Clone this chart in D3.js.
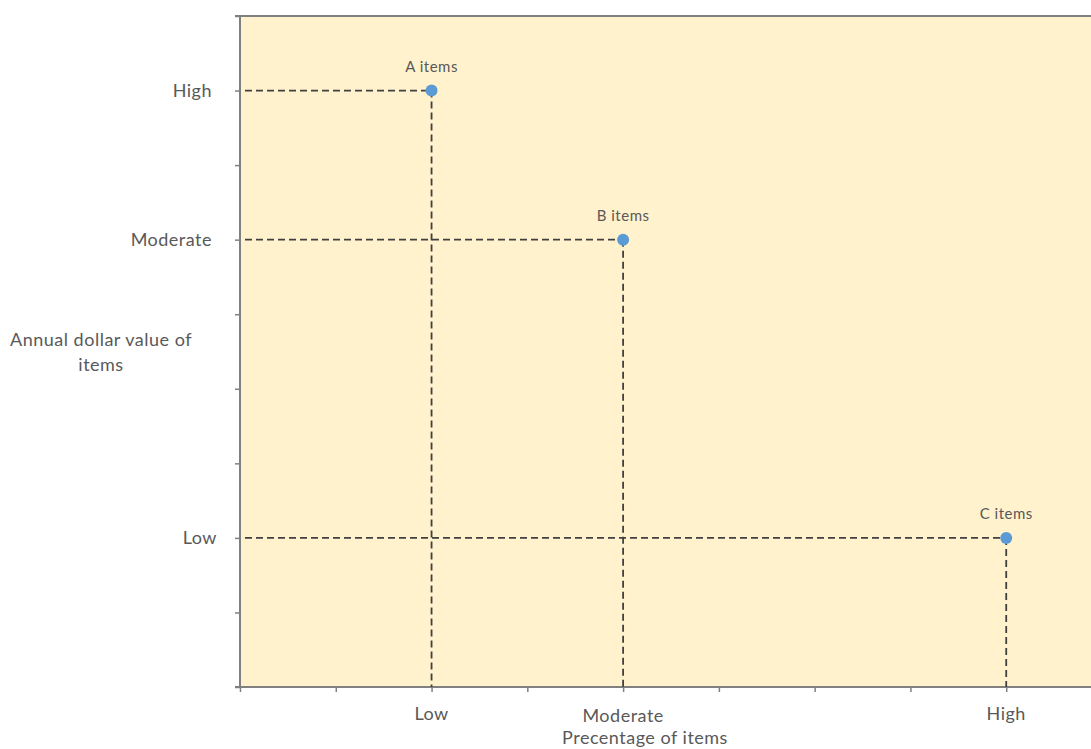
<!DOCTYPE html>
<html>
<head>
<meta charset="utf-8">
<script src="https://cdn.jsdelivr.net/npm/d3@7/dist/d3.min.js"></script>
<style>
  html, body { margin: 0; padding: 0; background: #ffffff; }
  svg { display: block; }
  text { font-family: Lato, "Open Sans", sans-serif; fill: #595959; letter-spacing: 0.5px; }
</style>
</head>
<body>
<svg id="chart" width="1091" height="749"></svg>
<script>
// ABC classification: item groups plotted by share of items vs annual dollar value
const groups = ["A items", "B items", "C items"];
const pctItems = [2, 4, 8];        // position on the "Precentage of items" scale
const dollarValue = [8, 6, 2];     // position on the "Annual dollar value" scale

const xTickValues = [0, 1, 2, 3, 4, 5, 6, 7, 8, 9];
const xTickLabels = { 2: "Low", 4: "Moderate", 8: "High" };
const yTickValues = [0, 1, 2, 3, 4, 5, 6, 7, 8, 9];
const yTickLabels = { 2: "Low", 6: "Moderate", 8: "High" };

const svg = d3.select("#chart");
const plotLeft = 240, plotRight = 1102, plotTop = 16, plotBottom = 687;

const x = d3.scaleLinear().domain([0, 9]).range([plotLeft, plotRight]);
const y = d3.scaleLinear().domain([0, 9]).range([plotBottom, plotTop]);

// plot background
svg.append("rect")
  .attr("x", plotLeft).attr("y", plotTop)
  .attr("width", plotRight - plotLeft).attr("height", plotBottom - plotTop)
  .attr("fill", "#FFF2CC");

// top border
svg.append("line")
  .attr("x1", plotLeft - 5).attr("x2", plotRight)
  .attr("y1", plotTop).attr("y2", plotTop)
  .attr("stroke", "#808080").attr("stroke-width", 2);

// axes
const xAxis = svg.append("g")
  .attr("transform", `translate(0,${plotBottom})`)
  .call(d3.axisBottom(x).tickValues(xTickValues).tickSize(5).tickFormat(""));
const yAxis = svg.append("g")
  .attr("transform", `translate(${plotLeft},0)`)
  .call(d3.axisLeft(y).tickValues(yTickValues).tickSize(5).tickFormat(""));
[xAxis, yAxis].forEach(g => {
  g.select(".domain").attr("stroke", "#808080").attr("stroke-width", 2);
  g.selectAll(".tick line").attr("stroke", "#808080").attr("stroke-width", 1.5);
});
// extend the baseline slightly past the origin
xAxis.select(".domain").attr("d", `M${plotLeft - 5},0H${plotRight}`);
yAxis.select(".domain").attr("d", `M0,${plotTop}V${plotBottom}`);

// x tick labels
const xLabelDy = { 2: 0, 4: 2, 8: 0 };
Object.entries(xTickLabels).forEach(([v, t]) => {
  svg.append("text")
    .attr("x", x(+v)).attr("y", 720 + xLabelDy[v])
    .attr("text-anchor", "middle")
    .attr("font-size", 18)
    .text(t);
});

// y tick labels
const yLabelDx = { 2: 5, 6: 0, 8: 0 };
Object.entries(yTickLabels).forEach(([v, t]) => {
  svg.append("text")
    .attr("x", 212 + yLabelDx[v]).attr("y", y(+v) + 6)
    .attr("text-anchor", "end")
    .attr("font-size", 18)
    .text(t);
});

// axis titles
svg.append("text")
  .attr("x", 645).attr("y", 744)
  .attr("text-anchor", "middle").attr("font-size", 18)
  .text("Precentage of items");
const yTitle = svg.append("text")
  .attr("x", 101).attr("text-anchor", "middle").attr("font-size", 18);
yTitle.append("tspan").attr("x", 101).attr("y", 346).text("Annual dollar value of");
yTitle.append("tspan").attr("x", 101).attr("y", 371).text("items");

// dashed guide lines
const dash = "7,4";
groups.forEach((g, i) => {
  svg.append("line")
    .attr("x1", plotLeft + 5).attr("x2", x(pctItems[i]))
    .attr("y1", y(dollarValue[i])).attr("y2", y(dollarValue[i]))
    .attr("stroke", "#404040").attr("stroke-width", 1.8)
    .attr("stroke-dasharray", dash);
  svg.append("line")
    .attr("x1", x(pctItems[i])).attr("x2", x(pctItems[i]))
    .attr("y1", y(dollarValue[i])).attr("y2", plotBottom)
    .attr("stroke", "#404040").attr("stroke-width", 1.8)
    .attr("stroke-dasharray", dash);
});

// points
svg.selectAll("circle.pt")
  .data(groups)
  .join("circle")
  .attr("class", "pt")
  .attr("cx", (d, i) => x(pctItems[i]))
  .attr("cy", (d, i) => y(dollarValue[i]))
  .attr("r", 6)
  .attr("fill", "#5B9BD5");

// point labels
svg.selectAll("text.pt-label")
  .data(groups)
  .join("text")
  .attr("class", "pt-label")
  .attr("x", (d, i) => x(pctItems[i]))
  .attr("y", (d, i) => y(dollarValue[i]) - 19)
  .attr("text-anchor", "middle")
  .attr("font-size", 15)
  .text(d => d);
</script>
</body>
</html>
